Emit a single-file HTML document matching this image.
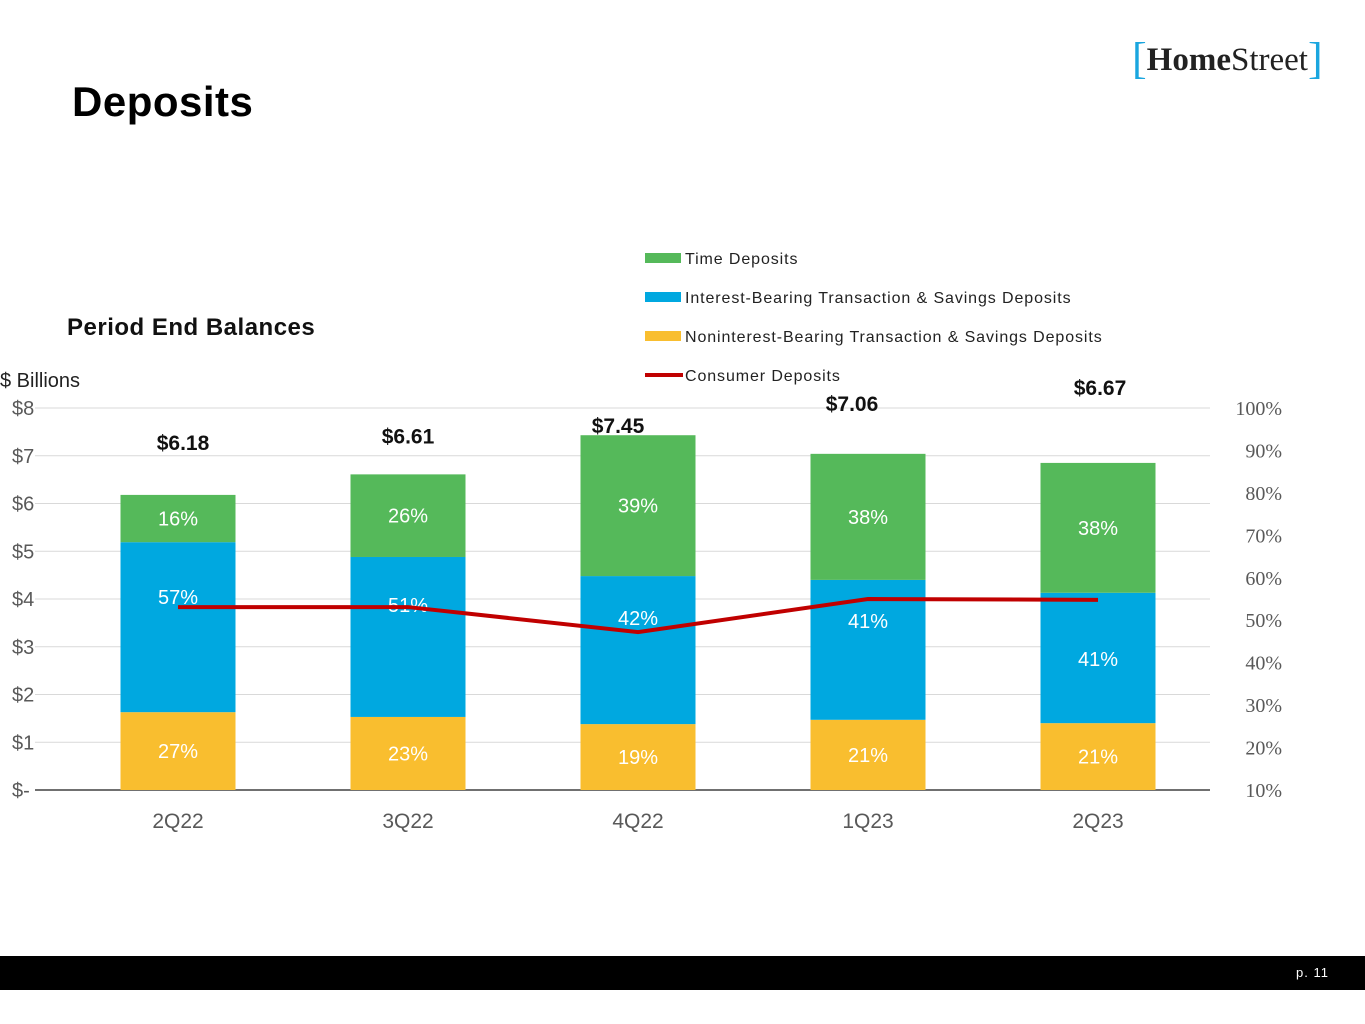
<!DOCTYPE html>
<html><head><meta charset="utf-8"><style>
body{margin:0;width:1365px;height:1024px;background:#fff;position:relative;overflow:hidden;font-family:"Liberation Sans",sans-serif}
.abs{position:absolute}
</style></head><body>
<div class="abs" style="left:1132px;top:30px;font-family:'Liberation Serif',serif;font-size:33px;color:#222;white-space:nowrap">
<span style="color:#1aa6df;font-size:44px;position:relative;top:3px">[</span><b>Home</b>Street<span style="color:#1aa6df;font-size:44px;position:relative;top:3px">]</span></div>
<div class="abs" style="left:72px;top:78px;font-size:42px;font-weight:bold;color:#000;letter-spacing:0.5px">Deposits</div>
<div class="abs" style="left:67px;top:314px;font-size:24px;font-weight:bold;color:#111;letter-spacing:0.5px">Period End Balances</div>
<div class="abs" style="left:0px;top:370px;font-size:20px;color:#222">$ Billions</div>
<svg class="abs" style="left:0;top:0" width="1365" height="950" id="chart"></svg>
<div class="abs" style="left:0;top:956px;width:1365px;height:34px;background:#000"></div>
<div class="abs" style="left:1296px;top:965px;color:#fff;font-size:13px;letter-spacing:1px">p. 11</div>
<script>
const categories=["2Q22","3Q22","4Q22","1Q23","2Q23"];
const nonInterest=[1.63,1.53,1.38,1.47,1.40];
const interestBearing=[3.56,3.35,3.10,2.93,2.73];
const timeDeposits=[0.99,1.73,2.95,2.64,2.72];
const totals=["$6.18","$6.61","$7.45","$7.06","$6.67"];
const pctNon=["27%","23%","19%","21%","21%"];
const pctInt=["57%","51%","42%","41%","41%"];
const pctTime=["16%","26%","39%","38%","38%"];
const consumer=[53.1,53.1,47.2,55.0,54.8];
const leftTicks=["$-","$1","$2","$3","$4","$5","$6","$7","$8"];
const rightTicks=["10%","20%","30%","40%","50%","60%","70%","80%","90%","100%"];
// label placement offsets (styling, px)
const totalDy=[45,31,2,43,68];
const totalDx=[5,0,-20,-16,2];
const intDy=[62,55,49,48,73];
const NS="http://www.w3.org/2000/svg";
const svg=document.getElementById('chart');
const y0=790,y8=408;
const yL=v=>y0-(v/8)*(y0-y8);
const yR=p=>y0-((p-10)/90)*(y0-y8);
const xC=i=>178+i*230;
const bw=115;
function mk(tag,attrs,name,text){const e=document.createElementNS(NS,tag);for(const k in attrs)e.setAttribute(k,attrs[k]);


if(text!==undefined)e.textContent=text;svg.appendChild(e);return e;}
leftTicks.forEach((t,i)=>{const y=yL(i);
if(i>0)mk('line',{x1:35,x2:1210,y1:y,y2:y,stroke:'#d9d9d9','stroke-width':1},'gridline');
mk('text',{x:12,y:y+7,'font-size':20,fill:'#595959','font-family':'Liberation Sans'},'left-tick-label',t);});
mk('line',{x1:35,x2:1210,y1:y0,y2:y0,stroke:'#404040','stroke-width':1.5},'x-axis-line');
rightTicks.forEach((t,i)=>{const p=10+i*10;mk('text',{x:1282,y:yR(p)+7,'font-size':20,fill:'#595959','font-family':'Liberation Serif','text-anchor':'end'},'right-tick-label',t);});
categories.forEach((c,i)=>{const x=xC(i)-bw/2;
const a=nonInterest[i],b=interestBearing[i],d=timeDeposits[i];
mk('rect',{x:x,y:yL(a),width:bw,height:yL(0)-yL(a),fill:'#f9be2f'},'bar-noninterest-'+c);
mk('rect',{x:x,y:yL(a+b),width:bw,height:yL(a)-yL(a+b),fill:'#00a8e0'},'bar-interest-bearing-'+c);
mk('rect',{x:x,y:yL(a+b+d),width:bw,height:yL(a+b)-yL(a+b+d),fill:'#55b95a'},'bar-time-'+c);
const tx={x:xC(i),'font-size':20,fill:'#fff','text-anchor':'middle','font-family':'Liberation Sans'};
mk('text',Object.assign({},tx,{y:(yL(0)+yL(a))/2+7}),'label-noninterest',pctNon[i]);
mk('text',Object.assign({},tx,{y:yL(a+b)+intDy[i]}),'label-interest-bearing',pctInt[i]);
mk('text',Object.assign({},tx,{y:(yL(a+b)+yL(a+b+d))/2+7}),'label-time',pctTime[i]);
mk('text',{x:xC(i)+totalDx[i],y:yL(a+b+d)-totalDy[i],'font-size':21,'font-weight':'bold',fill:'#111','text-anchor':'middle'},'total-label',totals[i]);
mk('text',{x:xC(i),y:828,'font-size':21,fill:'#595959','text-anchor':'middle'},'x-tick-label',c);});
mk('polyline',{points:consumer.map((p,i)=>xC(i)+','+yR(p)).join(' '),fill:'none',stroke:'#c00000','stroke-width':4},'consumer-deposits-line');
const leg=[["Time Deposits","#55b95a"],["Interest-Bearing Transaction & Savings Deposits","#00a8e0"],["Noninterest-Bearing Transaction & Savings Deposits","#f9be2f"],["Consumer Deposits","#c00000"]];
leg.forEach((l,i)=>{const y=258+i*39;
if(i<3)mk('rect',{x:645,y:y-5,width:36,height:10,fill:l[1]},'legend-swatch');
else mk('line',{x1:645,x2:683,y1:y,y2:y,stroke:l[1],'stroke-width':4},'legend-swatch');
mk('text',{x:685,y:y+6,'font-size':16,fill:'#222','letter-spacing':0.9},'legend-entry',l[0]);});
</script>
</body></html>
